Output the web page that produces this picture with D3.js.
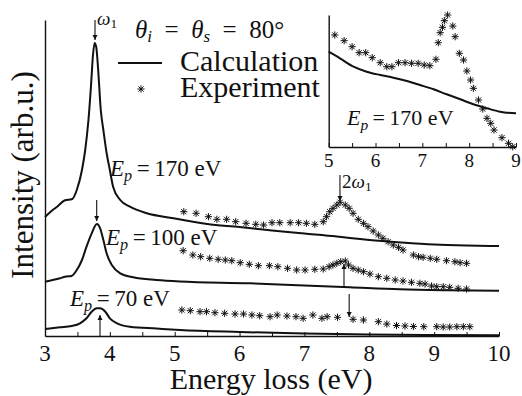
<!DOCTYPE html>
<html>
<head>
<meta charset="utf-8">
<script src="https://cdn.jsdelivr.net/npm/d3@7"></script>
</head>
<body style="margin:0">
<svg id="chart" width="522" height="396"></svg>
<script>
// Energy loss (eV) vs intensity (arb. units), three primary energies.
const calc170 = [[3.0,119],[3.1,125],[3.2,130],[3.3,135.5],[3.42,137],[3.49,146],[3.57,166],[3.62,186],[3.67,216],[3.71,251],[3.74,281],[3.765,293],[3.79,289],[3.82,266],[3.86,226],[3.90,206],[3.95,183],[4.0,166],[4.05,149.3],[4.16,136],[4.31,129.3],[4.57,122.7],[4.98,117.7],[5.5,112],[6.0,109],[6.5,105.5],[7.0,102.5],[7.5,99.5],[7.7,98],[8.0,96],[8.5,93.5],[9.0,91.5],[9.5,90.5],[10.0,90]];
const calc100 = [[3.0,54.3],[3.23,57.7],[3.31,59.3],[3.41,60],[3.49,66],[3.57,76],[3.64,89.3],[3.72,102.7],[3.80,112],[3.85,107.7],[3.90,96],[3.95,82.7],[4.03,71],[4.16,62.7],[4.36,58.7],[4.72,56],[5.08,54.5],[6.16,52.7],[7.0,50.5],[7.70,48.7],[8.47,46.7],[9.2,45.8],[10.0,45.3]];
const calc70 = [[3.0,7],[3.23,8.7],[3.41,10],[3.54,12.7],[3.64,17.7],[3.72,24.3],[3.80,27.7],[3.85,27.7],[3.93,24.3],[4.0,17.7],[4.11,12.7],[4.31,9.3],[4.72,7.5],[5.08,6],[6.0,4],[7.0,2.5],[8.0,1.5],[9.0,1],[10.0,0.7]];

const exp170 = [[5.14,124.3],[5.33,122.7],[5.52,119.3],[5.65,116.7],[5.80,116.7],[5.94,114.3],[6.10,112.7],[6.25,111.7],[6.37,111],[6.50,113.3],[6.62,113.3],[6.78,113.3],[6.91,113.3],[7.03,112.7],[7.16,111.7],[7.29,114.3],[7.34,119.3],[7.39,124.3],[7.44,127.7],[7.50,131],[7.55,133.7],[7.63,131],[7.69,127.7],[7.75,122.7],[7.83,116.7],[7.91,112.7],[7.98,109.3],[8.06,105],[8.14,101],[8.21,97.7],[8.29,94.3],[8.37,91],[8.45,88.7],[8.52,86],[8.68,81],[8.76,79.3],[8.83,78.7],[8.94,77.7],[9.04,76.7],[9.19,75.3],[9.32,74.3],[9.40,73.3],[9.50,72.7]];
const exp100 = [[5.13,85.3],[5.28,81],[5.40,79.3],[5.54,77.7],[5.67,76.7],[5.78,76],[5.88,75.3],[6.01,73.3],[6.15,71.7],[6.29,70.3],[6.46,70.3],[6.59,69.3],[6.74,67.7],[6.88,66],[7.01,66],[7.16,66.7],[7.29,67],[7.38,69.3],[7.44,71],[7.50,72.7],[7.56,74.3],[7.63,75],[7.68,71],[7.75,67.7],[7.83,66],[7.91,64.3],[8.01,62],[8.14,59.3],[8.27,57.7],[8.40,56],[8.52,55],[8.65,53.7],[8.78,52.7],[8.86,52],[8.96,50],[9.04,49.3],[9.14,49.3],[9.24,48.7],[9.37,47.7],[9.50,47]];
const exp70 = [[5.11,26],[5.24,25.3],[5.39,24.3],[5.49,24.3],[5.62,23.3],[5.77,22.7],[5.93,22],[6.06,22],[6.19,21],[6.31,20.3],[6.47,19.3],[6.58,21],[6.73,20],[6.87,19.3],[6.98,17.7],[7.13,21],[7.27,17.7],[7.35,19.3],[7.51,18.7],[7.75,16.7],[7.91,16],[8.14,14.3],[8.27,12],[8.42,10.5],[8.55,10],[8.68,9.5],[8.84,9.3],[9.04,9.3],[9.14,9],[9.24,9],[9.35,9.3],[9.45,9.3],[9.55,9.3]];

// Inset: Ep = 170 eV, 5-9 eV
const insetCalc = [[5.0,95.3],[5.24,88.7],[5.53,80.3],[5.81,75.3],[6.10,72],[6.38,69.3],[6.67,66],[6.95,62],[7.24,57.7],[7.52,52.7],[7.81,47.7],[8.09,42.7],[8.38,38.7],[8.66,35.3],[9.0,33.7]];
const insetExp = [[5.13,112],[5.33,106.3],[5.50,100.3],[5.65,94.3],[5.79,94.3],[5.93,89.3],[6.10,84.3],[6.24,80.3],[6.35,80.3],[6.49,84.3],[6.63,84.3],[6.77,83.7],[6.91,83.7],[7.04,82],[7.16,81.3],[7.29,87.7],[7.34,104.3],[7.38,114.3],[7.43,119.7],[7.47,126.3],[7.54,132],[7.65,121],[7.70,110.3],[7.79,93.7],[7.88,87],[7.95,76],[8.03,67],[8.09,58.7],[8.20,47],[8.29,38],[8.38,28.7],[8.46,23.7],[8.53,17],[8.70,9.3],[8.84,3.7],[8.93,0.3]];

const mainTickLabels = [3, 4, 5, 6, 7, 8, 9, 10];
const insetTickLabels = [5, 6, 7, 8, 9];

// Peak markers: energy, arrow tail and head intensities
const mainArrows = [
  { e: 3.771, from: 316, to: 296 },
  { e: 3.797, from: 136, to: 115 },
  { e: 3.848, from: 0,   to: 21 },
  { e: 7.548, from: 161, to: 135 },
  { e: 7.61,  from: 49,  to: 72 },
  { e: 7.69,  from: 42,  to: 19 }
];

const FONT = '"Liberation Serif", serif';
const svg = d3.select("#chart");

const x = d3.scaleLinear().domain([3, 10]).range([45, 499]);
const y = d3.scaleLinear().domain([0, 316]).range([336, 20]);

const xi = d3.scaleLinear().domain([5, 9]).range([328.7, 516]);
const yi = d3.scaleLinear().domain([0, 132]).range([147, 15]);

const halves = ticks => d3.pairs(ticks).map(([a, b]) => (a + b) / 2);

svg.append("defs").append("marker")
  .attr("id", "head")
  .attr("viewBox", "0 0 10 10")
  .attr("refX", 10).attr("refY", 5)
  .attr("markerWidth", 5).attr("markerHeight", 6)
  .attr("markerUnits", "userSpaceOnUse")
  .attr("orient", "auto")
  .append("path").attr("d", "M0,0L10,5L0,10Z").attr("fill", "#111");

// Text is set at a modest font size and scaled up to its drawn size.
function txt(g, px, py, size, rotate) {
  const k = size > 20 ? size / 20 : 1;
  return g.append("text")
    .attr("transform", `translate(${px},${py})${rotate ? ` rotate(${rotate})` : ""} scale(${k})`)
    .style("font-family", FONT)
    .attr("font-size", size / k)
    .attr("fill", "#111");
}
const plain = (t, s) => { t.append("tspan").text(s); return t; };

function star(g, data, sx, sy) {
  const r = 3.6, d = 2.6;
  g.selectAll(null).data(data).join("path")
    .attr("transform", p => `translate(${sx(p[0])},${sy(p[1])})`)
    .attr("d", `M${-r},0H${r}M0,${-r}V${r}M${-d},${-d}L${d},${d}M${-d},${d}L${d},${-d}`)
    .attr("stroke", "#111").attr("stroke-width", 1).attr("fill", "none");
}

function drawAxes(g, sx, sy, labels, size, base) {
  const y0 = sy.range()[0];
  g.append("g").attr("transform", `translate(0,${y0})`)
    .call(d3.axisBottom(sx).tickValues(labels).tickSizeInner(-4).tickSizeOuter(0).tickFormat(""));
  g.append("g").attr("transform", `translate(0,${y0})`)
    .call(d3.axisBottom(sx).tickValues(halves(labels)).tickSizeInner(-4).tickSizeOuter(0).tickFormat(""))
    .select(".domain").remove();
  g.append("g").attr("transform", `translate(${sx.range()[0]},0)`)
    .call(d3.axisLeft(sy).tickValues([]).tickSizeOuter(0));
  g.selectAll(".domain").attr("stroke", "#111").attr("stroke-width", 1.4);
  g.selectAll(".tick line").attr("stroke", "#111").attr("stroke-width", 1);
  labels.forEach(v => plain(txt(g, sx(v), y0 + base, size).attr("text-anchor", "middle"), String(v)));
}

// main panel
const main = svg.append("g");
drawAxes(main, x, y, mainTickLabels, 23, 25);

const line = d3.line().x(d => x(d[0])).y(d => y(d[1])).curve(d3.curveMonotoneX);
[calc170, calc100, calc70].forEach(c => {
  main.append("path").datum(c).attr("d", line)
    .attr("fill", "none").attr("stroke", "#111").attr("stroke-width", 2);
});
[exp170, exp100, exp70].forEach(s => star(main.append("g"), s, x, y));

main.selectAll(".arrow").data(mainArrows).join("line")
  .attr("class", "arrow")
  .attr("x1", d => x(d.e)).attr("x2", d => x(d.e))
  .attr("y1", d => y(d.from)).attr("y2", d => y(d.to))
  .attr("stroke", "#111").attr("stroke-width", 1.1)
  .attr("marker-end", "url(#head)");

// peak labels
const w1 = txt(main, 97, 25, 19);
w1.append("tspan").style("font-style", "italic").text("ω");
w1.append("tspan").attr("font-size", "70%").attr("dy", "0.22em").text("1");

const w2 = txt(main, 342, 188, 19);
w2.append("tspan").text("2");
w2.append("tspan").style("font-style", "italic").text("ω");
w2.append("tspan").attr("font-size", "70%").attr("dy", "0.22em").text("1");

function epLabel(g, px, py, value, size) {
  const t = txt(g, px, py, size);
  t.append("tspan").style("font-style", "italic").text("E");
  t.append("tspan").style("font-style", "italic").attr("font-size", "70%").attr("dy", "0.3em").text("p");
  t.append("tspan").attr("dy", "-0.21em").text("\u2009=\u2009" + value + "\u00a0eV");
}
epLabel(main, 110, 176, 170, 23);
epLabel(main, 106, 245, 100, 23);
epLabel(main, 70, 306, 70, 23);

// axis titles
plain(txt(svg, 271, 389, 30).attr("text-anchor", "middle"), "Energy\u00a0loss\u00a0(eV)");
plain(txt(svg, 33, 175, 31, -90).attr("text-anchor", "middle"), "Intensity\u00a0(arb.u.)");

// legend
const leg = svg.append("g");
const ttl = txt(leg, 135, 38, 25);
ttl.append("tspan").style("font-style", "italic").text("θ");
ttl.append("tspan").style("font-style", "italic").attr("font-size", "68%").attr("dy", "0.22em").text("i");
ttl.append("tspan").attr("dy", "-0.15em").text("\u2002=\u2002");
ttl.append("tspan").style("font-style", "italic").text("θ");
ttl.append("tspan").style("font-style", "italic").attr("font-size", "68%").attr("dy", "0.22em").text("s");
ttl.append("tspan").attr("dy", "-0.15em").text("\u2002=\u200280°");
leg.append("line").attr("x1", 118).attr("x2", 162).attr("y1", 63).attr("y2", 63)
  .attr("stroke", "#111").attr("stroke-width", 2);
plain(txt(leg, 180, 71, 30), "Calculation");
star(leg.append("g"), [[0, 0]], v => 141, v => 89);
plain(txt(leg, 180, 97, 30), "Experiment");

// inset panel
const inset = svg.append("g");
drawAxes(inset, xi, yi, insetTickLabels, 19, 20);
const iline = d3.line().x(d => xi(d[0])).y(d => yi(d[1])).curve(d3.curveMonotoneX);
inset.append("path").datum(insetCalc).attr("d", iline)
  .attr("fill", "none").attr("stroke", "#111").attr("stroke-width", 2);
star(inset.append("g"), insetExp, xi, yi);
epLabel(inset, 347, 125, 170, 22);
</script>
</body>
</html>
